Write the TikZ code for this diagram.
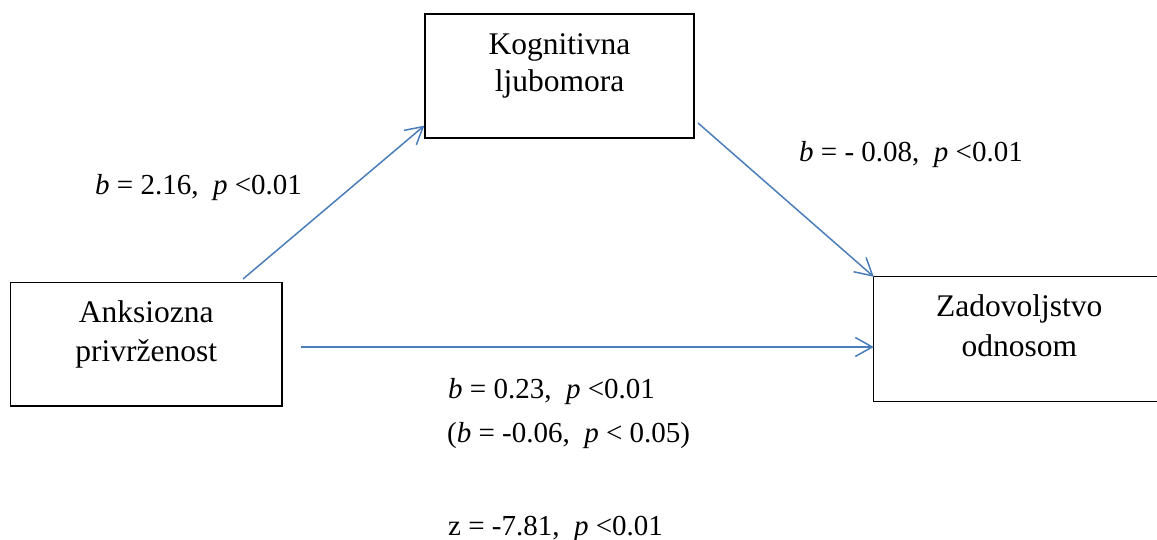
\documentclass[tikz,border=0pt]{standalone}
\usepackage{fontspec}
\setmainfont{Liberation Serif}
\usetikzlibrary{arrows.meta,calc}
\definecolor{arrowblue}{RGB}{74,126,187}
\tikzset{
  box/.style={draw=black,line width=1.3pt,rectangle,inner sep=0pt},
  openbox/.style={rectangle,inner sep=0pt},
  boxline/.style={draw=black,line width=1.3pt},
  boxtext/.style={inner sep=0pt,align=center,anchor=base,font=\fontsize{31.5}{38.5}\selectfont},
  lab/.style={inner sep=0pt,anchor=base west,font=\fontsize{29}{35}\selectfont},
  conn/.style={draw=arrowblue,line width=1.5pt,-{Straight Barb[length=17pt,width=19pt,line width=1.5pt]}}
}
\begin{document}
\begin{tikzpicture}[x=1pt,y=-1pt]
\useasboundingbox (0,0) rectangle (1157,540);
% boxes
\node[box,minimum width=271.5pt,minimum height=123.5pt] (A) at (146.25,344.25) {};
\node[box,minimum width=269pt,minimum height=124pt] (K) at (559.5,76) {};
\node[openbox,minimum width=300pt,minimum height=124pt] (Z) at (1024,339) {};
\draw[boxline] (Z.north east) -- (Z.north west) -- (Z.south west) -- (Z.south east);
% box texts (first baseline ~40px below top)
\node[boxtext] (At1) at ($(A.north)+(0,40.5)$) {Anksiozna};
\node[boxtext] (At2) at ($(A.north)+(0,79.5)$) {privrženost};
\node[boxtext] (Kt1) at ($(K.north)+(0,41)$) {Kognitivna};
\node[boxtext] (Kt2) at ($(K.north)+(0,78)$) {ljubomora};
\node[boxtext] (Zt1) at ($(Z.north west)+(145.5,40)$) {Zadovoljstvo};
\node[boxtext] (Zt2) at ($(Z.north west)+(145.5,80)$) {odnosom};
% connectors
\coordinate (s1) at (243,279);
\coordinate (s2) at (698,123);
\coordinate (s3) at (301,347);
\draw[conn] (s1) -- ($(K.south west)+(0,-13)$);
\draw[conn] (s2) -- (Z.north west);
\draw[conn] (s3) -- (s3 -| Z.west);
% labels
\node[lab] (L1) at (95,195) {\textit{b} = 2.16,\ \ \textit{p} <0.01};
\node[lab] (L2) at (799,162) {\textit{b} = - 0.08,\ \ \textit{p} <0.01};
\node[lab] (L3) at (448,398) {\textit{b} = 0.23,\ \ \textit{p} <0.01};
\node[lab] (L4) at (447,442) {(\textit{b} = -0.06,\ \ \textit{p} < 0.05)};
\node[lab] (L5) at (448,535) {z = -7.81,\ \ \textit{p} <0.01};
\end{tikzpicture}
\end{document}
